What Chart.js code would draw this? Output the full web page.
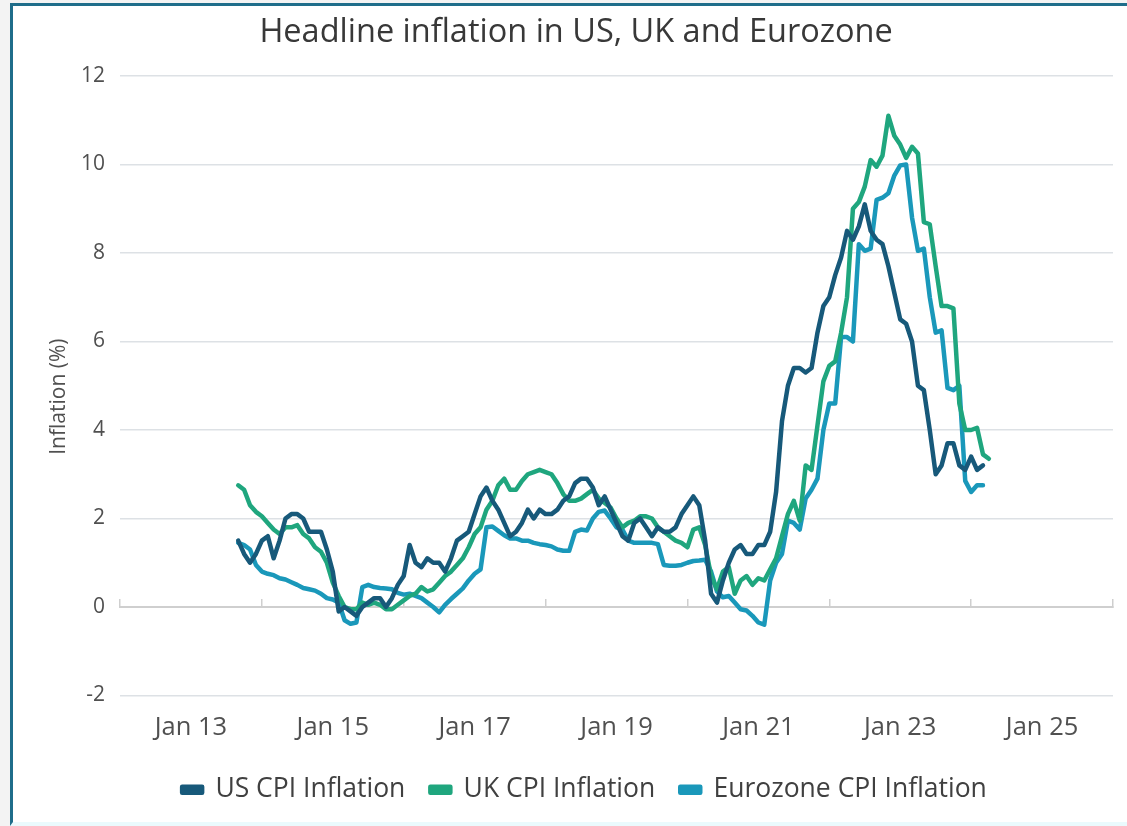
<!DOCTYPE html>
<html><head><meta charset="utf-8">
<script src="https://cdn.jsdelivr.net/npm/chart.js@4.4.1/dist/chart.umd.min.js"></script>
<style>
html,body{margin:0;padding:0;background:#f3f3f3;width:1127px;height:826px;overflow:hidden}
#frame{position:absolute;left:10px;top:3px;width:1117px;height:823px;box-sizing:border-box;border-left:3px solid #1f6d8a;border-top:3px solid #1f6d8a;border-bottom:4px solid #eafafd;background:#fff}
#wrap{position:absolute;left:0;top:0;width:1127px;height:826px}
</style></head><body>
<div id="frame"></div>
<div id="wrap"><canvas id="c" width="1127" height="826"></canvas></div>
<script>
// Monthly year-on-year CPI inflation (%), first value = Aug 2013
const firstMonth = '2013-08';
const usCPI = [
  1.5, 1.2, 1.0, 1.2, 1.5,
  1.6, 1.1, 1.5, 2.0, 2.1, 2.1, 2.0, 1.7, 1.7, 1.7, 1.3, 0.8,
  -0.1, 0.0, -0.1, -0.2, 0.0, 0.1, 0.2, 0.2, 0.0, 0.2, 0.5, 0.7,
  1.4, 1.0, 0.9, 1.1, 1.0, 1.0, 0.8, 1.1, 1.5, 1.6, 1.7, 2.1,
  2.5, 2.7, 2.4, 2.2, 1.9, 1.6, 1.7, 1.9, 2.2, 2.0, 2.2, 2.1,
  2.1, 2.2, 2.4, 2.5, 2.8, 2.9, 2.9, 2.7, 2.3, 2.5, 2.2, 1.9,
  1.6, 1.5, 1.9, 2.0, 1.8, 1.6, 1.8, 1.7, 1.7, 1.8, 2.1, 2.3,
  2.5, 2.3, 1.5, 0.3, 0.1, 0.6, 1.0, 1.3, 1.4, 1.2, 1.2, 1.4,
  1.4, 1.7, 2.6, 4.2, 5.0, 5.4, 5.4, 5.3, 5.4, 6.2, 6.8, 7.0,
  7.5, 7.9, 8.5, 8.3, 8.6, 9.1, 8.5, 8.3, 8.2, 7.7, 7.1, 6.5,
  6.4, 6.0, 5.0, 4.9, 4.0, 3.0, 3.2, 3.7, 3.7, 3.2, 3.1, 3.4,
  3.1, 3.2
];
const ukCPI = [
  2.75, 2.65, 2.3, 2.15, 2.05,
  1.9, 1.75, 1.65, 1.8, 1.8, 1.85, 1.65, 1.55, 1.35, 1.25, 1.0, 0.55,
  0.25, 0.0, -0.05, -0.05, 0.1, 0.05, 0.1, 0.05, -0.05, -0.05, 0.05, 0.15,
  0.25, 0.3, 0.45, 0.35, 0.4, 0.55, 0.7, 0.8, 0.95, 1.1, 1.35, 1.65,
  1.8, 2.2, 2.4, 2.75, 2.9, 2.65, 2.65, 2.85, 3.0, 3.05, 3.1, 3.05,
  3.0, 2.8, 2.55, 2.4, 2.4, 2.45, 2.55, 2.65, 2.45, 2.35, 2.25, 2.0,
  1.8, 1.9, 1.95, 2.05, 2.05, 2.0, 1.8, 1.7, 1.6, 1.5, 1.45, 1.35,
  1.75, 1.8, 1.4, 0.7, 0.4, 0.8, 0.9, 0.3, 0.6, 0.7, 0.5, 0.65,
  0.6, 0.85, 1.1, 1.6, 2.1, 2.4, 1.95, 3.2, 3.1, 4.1, 5.1, 5.45,
  5.55, 6.2, 7.0, 9.0, 9.15, 9.5, 10.1, 9.95, 10.2, 11.1, 10.65, 10.45,
  10.15, 10.4, 10.25, 8.7, 8.65, 7.7, 6.8, 6.8, 6.75, 4.6, 4.0, 4.0,
  4.05, 3.45, 3.35
];
const ezCPI = [
  1.45, 1.4, 1.3, 0.95, 0.8,
  0.75, 0.72, 0.65, 0.62, 0.56, 0.5, 0.43, 0.4, 0.37, 0.3, 0.2, 0.17,
  0.1, -0.3, -0.38, -0.35, 0.45, 0.5, 0.45, 0.43, 0.42, 0.4, 0.32, 0.28,
  0.3, 0.25, 0.2, 0.1, 0.0, -0.12, 0.05, 0.18, 0.3, 0.42, 0.6, 0.75,
  0.85, 1.8, 1.82, 1.72, 1.62, 1.55, 1.55, 1.5, 1.5, 1.45, 1.42, 1.4,
  1.37, 1.3, 1.27, 1.27, 1.7, 1.75, 1.73, 2.0, 2.15, 2.18, 2.0, 1.8,
  1.75, 1.5, 1.45, 1.45, 1.45, 1.45, 1.42, 0.95, 0.93, 0.93, 0.95, 1.0,
  1.04, 1.05, 1.07, 0.8, 0.35, 0.22, 0.25, 0.1, -0.05, -0.08, -0.2, -0.35,
  -0.4, 0.6, 1.0, 1.2, 1.95, 1.9, 1.75, 2.45, 2.65, 2.9, 4.0, 4.6,
  4.6, 6.1, 6.1, 6.0, 8.2, 8.05, 8.1, 9.2, 9.25, 9.35, 9.75, 9.98,
  10.0, 8.8, 8.05, 8.1, 7.0, 6.2, 6.25, 4.95, 4.9, 5.0, 2.85, 2.6,
  2.75, 2.75
];
const seriesNames = ['US CPI Inflation', 'UK CPI Inflation', 'Eurozone CPI Inflation'];
const seriesColors = ['#17597a', '#1fa67e', '#1a98ba'];
const axisStartYear = 2012;               // x axis runs Jan 2012 .. Jan 2026
const tickMarkMonths = [0, 24, 48, 72, 96, 120, 144, 168];
const tickLabelMonths = [12, 36, 60, 84, 108, 132, 156];
const tickLabels = ['Jan 13', 'Jan 15', 'Jan 17', 'Jan 19', 'Jan 21', 'Jan 23', 'Jan 25'];
const yTicks = [-2, 0, 2, 4, 6, 8, 10, 12];

function toPoints(values) {
  const [y, m] = firstMonth.split('-').map(Number);
  const start = (y - axisStartYear) * 12 + (m - 1) + 1; // plotted at month end
  return values.map((v, i) => ({ x: start + i, y: v }));
}

Chart.defaults.font.family = "'Open Sans', sans-serif";
const allSeries = [usCPI, ukCPI, ezCPI];

new Chart(document.getElementById('c'), {
  type: 'line',
  data: {
    datasets: allSeries.map((vals, i) => ({
      label: seriesNames[i],
      data: toPoints(vals),
      borderColor: seriesColors[i],
      backgroundColor: seriesColors[i],
      borderWidth: 4.5,
      pointRadius: 0,
      tension: 0,
      borderJoinStyle: 'round',
      borderCapStyle: 'round'
    }))
  },
  options: {
    responsive: false,
    animation: false,
    devicePixelRatio: 1,
    layout: { padding: { left: 42, right: 0, top: 0, bottom: 13 } },
    plugins: {
      title: {
        display: true,
        text: 'Headline inflation in US, UK and Eurozone  ',
        color: '#383838',
        font: { size: 32.5, weight: 'normal' },
        padding: { top: 13, bottom: 24 }
      },
      legend: {
        position: 'bottom',
        labels: {
          boxWidth: 20, boxHeight: 6, padding: 25,
          color: '#404040',
          font: { size: 26.5 }
        }
      },
      tooltip: { enabled: false }
    },
    scales: {
      x: {
        type: 'linear', min: 0, max: 168,
        grid: { display: false, drawTicks: false },
        border: { display: false },
        afterBuildTicks: s => { s.ticks = tickLabelMonths.map(v => ({ value: v })); },
        afterFit: s => { s.height = 56; },
        ticks: {
          autoSkip: false, maxRotation: 0, padding: 17,
          color: '#505050', font: { size: 25.5 },
          callback: (v, i) => tickLabels[i]
        }
      },
      x0: {
        type: 'linear', min: 0, max: 168,
        position: { y: 0 },
        afterBuildTicks: s => { s.ticks = tickMarkMonths.map(v => ({ value: v })); },
        grid: { display: true, drawOnChartArea: false, drawTicks: true, tickLength: -9, color: '#cfcfcf', lineWidth: 1.5 },
        border: { display: true, color: '#cfcfcf', width: 2 },
        ticks: { display: false }
      },
      y: {
        min: -2, max: 12,
        afterBuildTicks: s => { s.ticks = yTicks.map(v => ({ value: v })); },
        afterFit: s => { s.width = 78; },
        border: { display: false },
        grid: { color: '#dde1e5', lineWidth: 1.5, drawTicks: false },
        ticks: { color: '#505050', font: { size: 21 }, padding: 15 },
        title: { display: true, text: 'Inflation (%)    ', color: '#505050', font: { size: 21 } }
      },
      yRightMargin: {
        position: 'right', min: -2, max: 12,
        afterFit: s => { s.width = 14; },
        grid: { display: false, drawTicks: false },
        border: { display: false },
        ticks: { display: false }
      }
    }
  }
});
</script>
</body></html>
